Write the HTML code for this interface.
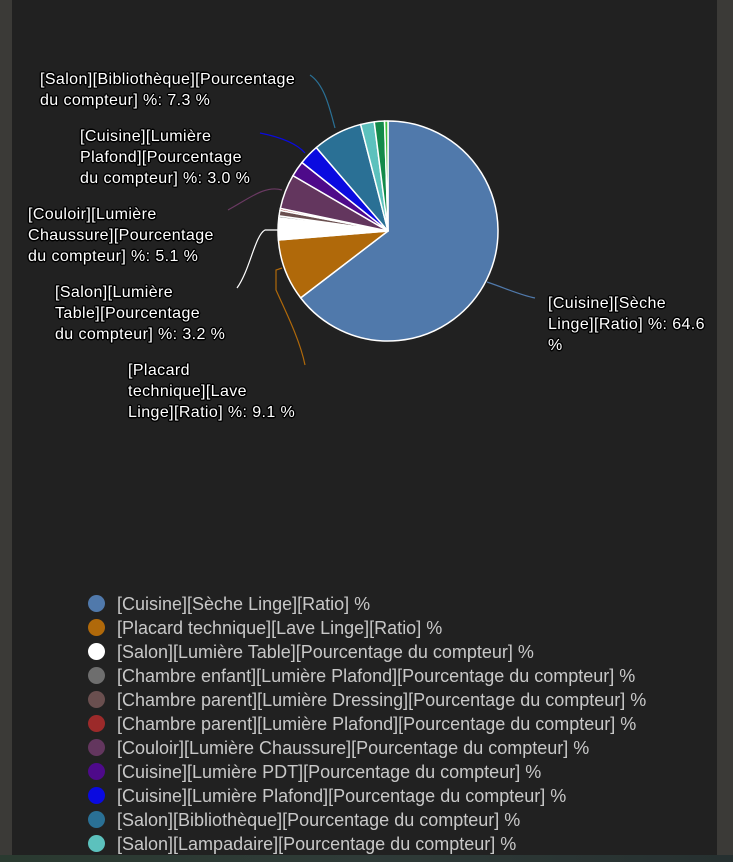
<!DOCTYPE html>
<html><head><meta charset="utf-8"><style>
body{margin:0;width:733px;height:862px;background:#3b3a37;overflow:hidden;font-family:"Liberation Sans",sans-serif}
#panel{position:absolute;left:12px;top:0;width:705px;height:855px;background:#212121}
#strip{position:absolute;left:0;top:855px;width:733px;height:7px;background:linear-gradient(90deg,#2a3a30,#2f3b38,#263030)}
.lbl{position:absolute;color:#fff;font-size:16px;line-height:21px;letter-spacing:0.4px;white-space:nowrap;text-shadow:-1px -1px 0 #000,1px -1px 0 #000,-1px 1px 0 #000,1px 1px 0 #000,0 1.5px 0 #000,0 -1.5px 0 #000,1.5px 0 0 #000,-1.5px 0 0 #000}
.leg{position:absolute;left:88px;font-size:18px;color:#c8c8c8;letter-spacing:0;height:24px;line-height:24px;white-space:nowrap}
.leg i{display:inline-block;width:17px;height:17px;border-radius:50%;vertical-align:-2px;margin-right:12px}
</style></head><body>
<div id="panel"></div>
<div id="strip"></div>
<svg id="pie" width="733" height="862" style="position:absolute;left:0;top:0">
<g fill="none" stroke-width="1.2">
<path d="M310,75 C325,85 330,110 335,128" stroke="#2a7095"/>
<path d="M260,133 C285,138 298,145 305,153" stroke="#0a0ae0"/>
<path d="M228,210 C250,198 265,185 282,190" stroke="#6b3a63"/>
<path d="M237,288 C250,270 255,235 265,230 L278,230" stroke="#fff"/>
<path d="M305,365 C300,340 285,310 276,290 L276,270 L282,268" stroke="#b0690a"/>
<path d="M487,282 C505,288 520,295 535,298" stroke="#5079ab"/>
</g>
<g id="slices"></g>
</svg>
<div class="lbl" style="left:40px;top:69px">[Salon][Bibliothèque][Pourcentage<br>du compteur] %: 7.3 %</div>
<div class="lbl" style="left:80px;top:126px">[Cuisine][Lumière<br>Plafond][Pourcentage<br>du compteur] %: 3.0 %</div>
<div class="lbl" style="left:28px;top:204px">[Couloir][Lumière<br>Chaussure][Pourcentage<br>du compteur] %: 5.1 %</div>
<div class="lbl" style="left:55px;top:282px">[Salon][Lumière<br>Table][Pourcentage<br>du compteur] %: 3.2 %</div>
<div class="lbl" style="left:128px;top:360px">[Placard<br>technique][Lave<br>Linge][Ratio] %: 9.1 %</div>
<div class="lbl" style="left:548px;top:293px">[Cuisine][Sèche<br>Linge][Ratio] %: 64.6<br>%</div>
<div id="legend"></div>
<script>
const categories=["[Cuisine][Sèche Linge][Ratio] %","[Placard technique][Lave Linge][Ratio] %","[Salon][Lumière Table][Pourcentage du compteur] %","[Chambre enfant][Lumière Plafond][Pourcentage du compteur] %","[Chambre parent][Lumière Dressing][Pourcentage du compteur] %","[Chambre parent][Lumière Plafond][Pourcentage du compteur] %","[Couloir][Lumière Chaussure][Pourcentage du compteur] %","[Cuisine][Lumière PDT][Pourcentage du compteur] %","[Cuisine][Lumière Plafond][Pourcentage du compteur] %","[Salon][Bibliothèque][Pourcentage du compteur] %","[Salon][Lampadaire][Pourcentage du compteur] %","Green","LightGreen"];
const values=[64.6,9.1,3.2,0.3,0.8,0.3,5.1,2.3,3.0,7.3,2.0,1.5,0.5];
const colors=["#5079ab","#b0690a","#ffffff","#6e6e6e","#6a4f4f","#9c2a2a","#63365e","#4e0a8a","#0a0ae0","#2a7095","#5cc1bd","#138a4a","#3cbf3c"];
const legendCount=11;
const cx=388,cy=231,r=110;
const total=values.reduce((a,b)=>a+b,0);
const g=document.getElementById('slices');
let a0=-Math.PI/2;
values.forEach((v,i)=>{
  const a1=a0+v/total*2*Math.PI;
  const p=document.createElementNS('http://www.w3.org/2000/svg','path');
  const x0=cx+r*Math.cos(a0),y0=cy+r*Math.sin(a0),x1=cx+r*Math.cos(a1),y1=cy+r*Math.sin(a1);
  p.setAttribute('d',`M${cx},${cy}L${x0},${y0}A${r},${r} 0 ${a1-a0>Math.PI?1:0} 1 ${x1},${y1}Z`);
  p.setAttribute('fill',colors[i]);p.setAttribute('stroke','#fff');p.setAttribute('stroke-width','1.5');p.setAttribute('stroke-linejoin','round');
  
  
  g.appendChild(p);a0=a1;
});
const lg=document.getElementById('legend');
for(let i=0;i<legendCount;i++){
  const d=document.createElement('div');d.className='leg';d.style.top=(592+i*24)+'px';
  d.innerHTML=`<i style="background:${colors[i]}"></i>${categories[i]}`;
  
  
  lg.appendChild(d);
}
</script>
</body></html>
